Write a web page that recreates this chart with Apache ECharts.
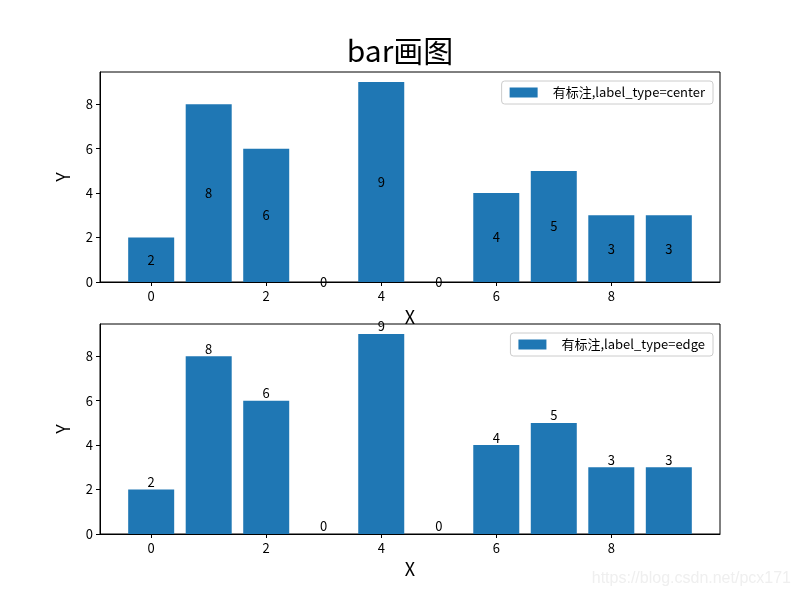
<!DOCTYPE html>
<html>
<head>
<meta charset="utf-8">
<script src="https://cdn.jsdelivr.net/npm/echarts@6/dist/echarts.min.js"></script>
<style>html,body{margin:0;padding:0;background:#fff}#c{width:800px;height:600px}</style>
</head>
<body>
<div id="c"></div>
<script>
const xValues = [0, 1, 2, 3, 4, 5, 6, 7, 8, 9];
const yValues = [2, 8, 6, 0, 9, 0, 4, 5, 3, 3];
const xTicks = [0, 2, 4, 6, 8];
const yTicks = [0, 2, 4, 6, 8];
const titleText = 'bar画图';
const seriesTop = '有标注,label_type=center';
const seriesBottom = '有标注,label_type=edge';
const watermark = 'https://blog.csdn.net/pcx171';

const FONT = "'Noto Sans CJK SC', sans-serif";
const BLUE = '#1f77b4';
const pts = xValues.map((x, i) => [x, yValues[i]]);

function xAxis(gi) {
  return {
    gridIndex: gi, type: 'value', min: -0.89, max: 9.89,
    name: 'X', nameLocation: 'middle', nameGap: 26,
    nameTextStyle: { fontSize: 18, color: '#000', fontFamily: FONT },
    axisLine: { show: true, onZero: false, lineStyle: { color: '#000', width: 1 } },
    axisTick: { show: true, length: 4, lineStyle: { color: '#000' }, customValues: xTicks },
    axisLabel: { color: '#000', fontSize: 13, fontFamily: FONT, margin: 8, customValues: xTicks },
    splitLine: { show: false }
  };
}
function yAxis(gi) {
  return {
    gridIndex: gi, type: 'value', min: 0, max: 9.45,
    name: 'Y', nameLocation: 'middle', nameGap: 28, nameRotate: 90,
    nameTextStyle: { fontSize: 18, color: '#000', fontFamily: FONT },
    axisLine: { show: true, onZero: false, lineStyle: { color: '#000', width: 1 } },
    axisTick: { show: true, length: 4, lineStyle: { color: '#000' }, customValues: yTicks },
    axisLabel: { color: '#000', fontSize: 13, fontFamily: FONT, margin: 7, customValues: yTicks },
    splitLine: { show: false }
  };
}
const legendCommon = {
  orient: 'horizontal', icon: 'rect', itemWidth: 28, itemHeight: 10, itemGap: 10,
  borderColor: '#cccccc', borderWidth: 1, borderRadius: 3, backgroundColor: '#fff',
  padding: [5, 8, 5, 8],
  textStyle: { fontSize: 13, color: '#000', fontFamily: FONT, padding: [0, 0, 0, 10] }
};

const chart = echarts.init(document.getElementById('c'), null, { renderer: 'canvas' });
chart.setOption({
  animation: false,
  backgroundColor: '#fff',
  title: {
    text: titleText, left: 'center', top: 31,
    textStyle: { fontSize: 30, fontWeight: 'normal', color: '#000', fontFamily: FONT }
  },
  legend: [
    Object.assign({ data: [seriesTop], right: 87, top: 81 }, legendCommon),
    Object.assign({ data: [seriesBottom], right: 87, top: 333 }, legendCommon)
  ],
  grid: [
    { left: 100, right: 80, top: 72, height: 210, show: true, borderColor: '#000', borderWidth: 1 },
    { left: 100, right: 80, top: 324, height: 210, show: true, borderColor: '#000', borderWidth: 1 }
  ],
  xAxis: [xAxis(0), xAxis(1)],
  yAxis: [yAxis(0), yAxis(1)],
  series: [
    {
      name: seriesTop, type: 'bar', xAxisIndex: 0, yAxisIndex: 0, data: pts, barWidth: 46,
      itemStyle: { color: BLUE },
      label: { show: true, position: 'inside', color: '#000', fontSize: 13, fontFamily: FONT,
        formatter: p => p.value[1] }
    },
    {
      name: seriesBottom, type: 'bar', xAxisIndex: 1, yAxisIndex: 1, data: pts, barWidth: 46,
      itemStyle: { color: BLUE },
      label: { show: true, position: 'top', distance: 1, color: '#000', fontSize: 13, fontFamily: FONT,
        formatter: p => p.value[1] }
    }
  ],
  graphic: [
    { type: 'text', right: 9, top: 571, silent: true,
      style: { text: watermark, fill: '#efefef', fontSize: 16, fontFamily: 'Liberation Sans, Arial, sans-serif' } }
  ]
});
</script>
</body>
</html>
